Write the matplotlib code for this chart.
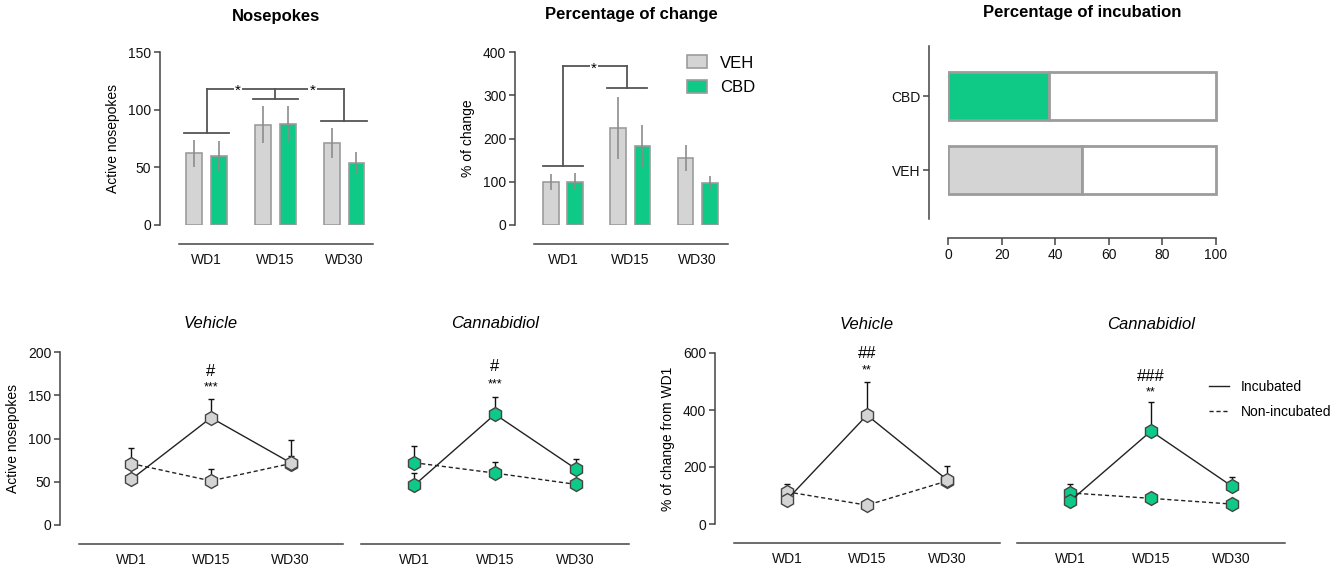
import numpy as np
import matplotlib.pyplot as plt
from matplotlib.patches import Patch
from matplotlib.lines import Line2D

plt.rcParams['font.family'] = ['Liberation Sans', 'DejaVu Sans']
plt.rcParams['font.size'] = 10

days = ['WD1', 'WD15', 'WD30']
groups = ['VEH', 'CBD']

# top left: active nosepokes (mean, sem)
np_veh = [62, 87, 71]
np_veh_err = [12, 16, 13]
np_cbd = [60, 88, 54]
np_cbd_err = [13, 15, 9]

# top middle: % of change
pc_veh = [100, 224, 154]
pc_veh_err = [18, 72, 30]
pc_cbd = [100, 182, 97]
pc_cbd_err = [20, 50, 17]

# top right: % incubated, VEH then CBD
incub_pct = [50, 37.5]

# bottom: active nosepokes, incubated / non-incubated
veh_inc = [53, 124, 72]
veh_inc_err = [15, 22, 26]
veh_non = [71, 51, 71]
veh_non_err = [18, 14, 9]
cbd_inc = [46, 128, 65]
cbd_inc_err = [14, 20, 11]
cbd_non = [72, 60, 47]
cbd_non_err = [19, 13, 5]

# bottom: % of change from WD1
vehp_inc = [85, 382, 155]
vehp_inc_err = [20, 118, 47]
vehp_non = [113, 66, 151]
vehp_non_err = [28, 6, 10]
cbdp_inc = [81, 326, 133]
cbdp_inc_err = [15, 103, 33]
cbdp_non = [109, 90, 70]
cbdp_non_err = [30, 6, 6]

GREY = '#d4d4d4'
GREEN = '#0fc987'
EDGE = '#9c9c9c'
AXC = '#444444'

W, H = 1336, 568
fig = plt.figure(figsize=(W / 100, H / 100), dpi=100)


def add_ax(x0, y0, x1, y1):
    return fig.add_axes([x0 / W, 1 - y1 / H, (x1 - x0) / W, (y1 - y0) / H])


def style(ax, left=True):
    for s in ['top', 'right']:
        ax.spines[s].set_visible(False)
    ax.spines['bottom'].set_position(('outward', 14))
    ax.spines['bottom'].set_color(AXC)
    ax.spines['bottom'].set_linewidth(1.1)
    if left:
        ax.spines['left'].set_position(('outward', 14))
        ax.spines['left'].set_color(AXC)
        ax.spines['left'].set_linewidth(1.1)
        ax.tick_params(axis='y', length=4, width=1.1, color=AXC, pad=2)
    else:
        ax.spines['left'].set_visible(False)
        ax.set_yticks([])
    ax.tick_params(axis='x', length=0, pad=6)
    ax.tick_params(labelsize=10, labelcolor='#111111')


def star(ax, x, y, s='*'):
    ax.text(x, y, s, ha='center', va='center', fontsize=11,
            bbox=dict(fc='white', ec='none', pad=1))


x = np.arange(len(days))
bw = 0.23
off = 0.18

# ---- Nosepokes
ax = add_ax(179, 52, 373, 225)
style(ax)
ax.bar(x - off, np_veh, bw, color=GREY, edgecolor=EDGE, lw=1.2)
ax.bar(x + off, np_cbd, bw, color=GREEN, edgecolor=EDGE, lw=1.2)
ax.errorbar(x - off, np_veh, yerr=np_veh_err, fmt='none', ecolor='#8c8c8c', elinewidth=1.2)
ax.errorbar(x + off, np_cbd, yerr=np_cbd_err, fmt='none', ecolor='#8c8c8c', elinewidth=1.2)
bk = dict(color='#555555', lw=1.3)
ax.plot([-0.33, 0.33], [80, 80], **bk)
ax.plot([0.67, 1.33], [109, 109], **bk)
ax.plot([1.67, 2.33], [90, 90], **bk)
ax.plot([0, 0], [80, 118], **bk)
ax.plot([1, 1], [109, 118], **bk)
ax.plot([2, 2], [90, 118], **bk)
ax.plot([0, 2], [118, 118], **bk)
star(ax, 0.46, 116)
star(ax, 1.54, 116)
ax.set_xlim(-0.4, 2.42)
ax.set_ylim(0, 150)
ax.set_yticks([0, 50, 100, 150])
ax.set_xticks(x, days)
ax.set_ylabel('Active nosepokes', labelpad=6)
ax.set_title('Nosepokes', fontweight='bold', pad=22)

# ---- Percentage of change
ax = add_ax(534, 52, 728, 225)
style(ax)
ax.bar(x - off, pc_veh, bw, color=GREY, edgecolor=EDGE, lw=1.2)
ax.bar(x + off, pc_cbd, bw, color=GREEN, edgecolor=EDGE, lw=1.2)
ax.errorbar(x - off, pc_veh, yerr=pc_veh_err, fmt='none', ecolor='#8c8c8c', elinewidth=1.2)
ax.errorbar(x + off, pc_cbd, yerr=pc_cbd_err, fmt='none', ecolor='#8c8c8c', elinewidth=1.2)
ax.plot([-0.3, 0.3], [136, 136], **bk)
ax.plot([0.65, 1.25], [317, 317], **bk)
ax.plot([0, 0], [136, 367], **bk)
ax.plot([0.95, 0.95], [317, 367], **bk)
ax.plot([0, 0.95], [367, 367], **bk)
star(ax, 0.46, 361)
ax.set_xlim(-0.43, 2.45)
ax.set_ylim(0, 400)
ax.set_yticks([0, 100, 200, 300, 400])
ax.set_xticks(x, days)
ax.set_ylabel('% of change', labelpad=6)
ax.set_title('Percentage of change', fontweight='bold', pad=24)
handles = [Patch(fc=GREY, ec=EDGE, lw=1.2), Patch(fc=GREEN, ec=EDGE, lw=1.2)]
ax.legend(handles, groups, loc='upper left', bbox_to_anchor=(0.79, 0.98),
          frameon=False, fontsize=12, borderpad=0, borderaxespad=0,
          handlelength=1.2, handleheight=0.8, handletextpad=0.75, labelspacing=0.55)

# ---- Percentage of incubation
ax = add_ax(948, 46, 1216, 219)
style(ax)
ax.tick_params(axis='x', length=5, width=1.1, color=AXC, pad=2)
ypos = np.arange(len(groups))
non_pct = [100 - v for v in incub_pct]
ax.barh(ypos, incub_pct, 0.65, color=[GREY, GREEN], edgecolor=EDGE, lw=2)
wb = ax.barh(ypos, non_pct, 0.65, left=incub_pct, color='white', edgecolor=EDGE, lw=2)
for b in wb:
    b.set_clip_on(False)
ax.set_xlim(0, 100)
ax.set_ylim(-0.66, 1.68)
ax.set_xticks([0, 20, 40, 60, 80, 100])
ax.set_yticks(ypos, groups)
ax.set_title('Percentage of incubation', fontweight='bold', pad=21)


# ---- bottom line plots
def lines(ax, inc, inc_err, non, non_err, fc):
    z = np.zeros(len(days))
    ax.errorbar(x, inc, yerr=[z, inc_err], fmt='none', ecolor='#111111',
                elinewidth=1, capsize=2.5, capthick=1)
    ax.errorbar(x, non, yerr=[z, non_err], fmt='none', ecolor='#111111',
                elinewidth=1, capsize=2.5, capthick=1)
    ax.plot(x, non, ls=(0, (3, 2)), color='#222222', lw=1, marker='h', ms=10,
            mfc=fc, mec='#444444', mew=1)
    ax.plot(x, inc, ls='-', color='#222222', lw=1, marker='h', ms=10,
            mfc=fc, mec='#444444', mew=1)
    ax.set_xlim(-0.66, 2.66)
    ax.set_xticks(x, days)


ax = add_ax(79, 352, 343, 525)
style(ax)
lines(ax, veh_inc, veh_inc_err, veh_non, veh_non_err, GREY)
ax.set_ylim(0, 200)
ax.set_yticks([0, 50, 100, 150, 200])
ax.text(1, 178, '#', ha='center', va='center', fontsize=12)
ax.text(1, 159, '***', ha='center', va='center', fontsize=9)
ax.set_ylabel('Active nosepokes', labelpad=6)
ax.set_title('Vehicle', style='italic', pad=17)

ax = add_ax(361, 352, 629, 525)
style(ax, left=False)
lines(ax, cbd_inc, cbd_inc_err, cbd_non, cbd_non_err, GREEN)
ax.set_ylim(0, 200)
ax.text(1, 183, '#', ha='center', va='center', fontsize=12)
ax.text(1, 163, '***', ha='center', va='center', fontsize=9)
ax.set_title('Cannabidiol', style='italic', pad=17)

ax = add_ax(734, 353, 1000, 524)
style(ax)
lines(ax, vehp_inc, vehp_inc_err, vehp_non, vehp_non_err, GREY)
ax.set_ylim(0, 600)
ax.set_yticks([0, 200, 400, 600])
ax.text(1, 598, '##', ha='center', va='center', fontsize=12)
ax.text(1, 538, '**', ha='center', va='center', fontsize=9)
ax.set_ylabel('% of change from WD1', labelpad=6)
ax.set_title('Vehicle', style='italic', pad=17)

ax = add_ax(1017, 353, 1285, 524)
style(ax, left=False)
lines(ax, cbdp_inc, cbdp_inc_err, cbdp_non, cbdp_non_err, GREEN)
ax.set_ylim(0, 600)
ax.text(1, 519, '###', ha='center', va='center', fontsize=12)
ax.text(1, 462, '**', ha='center', va='center', fontsize=9)
ax.set_title('Cannabidiol', style='italic', pad=17)
lh = [Line2D([], [], color='#222222', lw=1),
      Line2D([], [], color='#222222', lw=1, ls=(0, (3, 2)))]
ax.legend(lh, ['Incubated', 'Non-incubated'], loc='upper left',
          bbox_to_anchor=(0.715, 0.84), frameon=False, fontsize=10,
          borderpad=0, borderaxespad=0, handlelength=1.5,
          handletextpad=0.8, labelspacing=0.75)

fig.savefig('out.png', dpi=100)
